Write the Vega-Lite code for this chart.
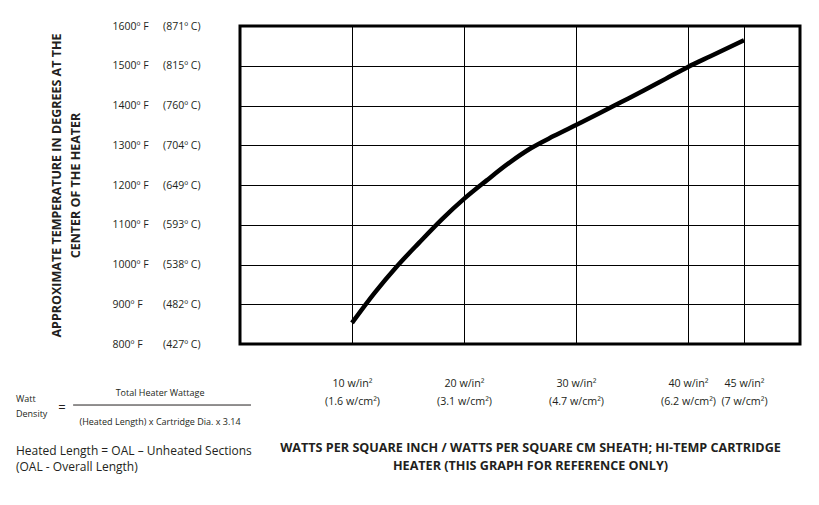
{
  "$schema": "https://vega.github.io/schema/vega-lite/v6.json",
  "width": 560,
  "height": 318,
  "autosize": {"type": "none"},
  "padding": {"left": 240, "top": 26, "right": 19, "bottom": 161},
  "background": "white",
  "config": {
    "view": {"stroke": "black", "strokeWidth": 3},
    "font": "Open Sans",
    "text": {"font": "Open Sans", "color": "#231f20"}
  },
  "resolve": {"axis": {"x": "independent", "y": "independent"}},
  "layer": [
    {
      "data": {
        "values": [
          {"wpsi": 10, "tempF": 853},
          {"wpsi": 12, "tempF": 928},
          {"wpsi": 14, "tempF": 995},
          {"wpsi": 16, "tempF": 1055},
          {"wpsi": 18, "tempF": 1113},
          {"wpsi": 20, "tempF": 1165},
          {"wpsi": 22, "tempF": 1211},
          {"wpsi": 24, "tempF": 1255},
          {"wpsi": 26, "tempF": 1293},
          {"wpsi": 28, "tempF": 1323},
          {"wpsi": 30, "tempF": 1351},
          {"wpsi": 32, "tempF": 1379},
          {"wpsi": 34, "tempF": 1408},
          {"wpsi": 36, "tempF": 1437},
          {"wpsi": 38, "tempF": 1467},
          {"wpsi": 40, "tempF": 1497},
          {"wpsi": 42, "tempF": 1524},
          {"wpsi": 45, "tempF": 1564}
        ]
      },
      "mark": {"type": "line", "color": "black", "strokeWidth": 4.5, "interpolate": "monotone"},
      "encoding": {
        "x": {
          "field": "wpsi",
          "type": "quantitative",
          "scale": {"domain": [0, 50], "nice": false, "zero": false},
          "axis": {
            "orient": "bottom",
            "values": [10, 20, 30, 40, 45],
            "grid": true,
            "gridColor": "black",
            "gridWidth": 1,
            "gridOpacity": 1,
            "domain": false,
            "ticks": false,
            "tickSize": 0,
            "labelPadding": 34,
            "labelBaseline": "top",
            "labelLineHeight": 18,
            "labelFontSize": 10.7,
            "labelFont": "Open Sans",
            "labelColor": "#231f20",
            "labelFlush": false,
            "labelOverlap": false,
            "labelExpr": "datum.value == 10 ? ['10 w/in²', '(1.6 w/cm²)'] : datum.value == 20 ? ['20 w/in²', '(3.1 w/cm²)'] : datum.value == 30 ? ['30 w/in²', '(4.7 w/cm²)'] : datum.value == 40 ? ['40 w/in²', '(6.2 w/cm²)'] : ['45 w/in²', '(7 w/cm²)']",
            "title": ["WATTS PER SQUARE INCH / WATTS PER SQUARE CM SHEATH; HI-TEMP CARTRIDGE", "HEATER (THIS GRAPH FOR REFERENCE ONLY)"],
            "titleFont": "Open Sans",
            "titleFontSize": 12.6,
            "titleFontWeight": "bold",
            "titleColor": "#231f20",
            "titleX": 290,
            "titleY": 103,
            "titleAlign": "center",
            "titleBaseline": "middle",
            "titleLineHeight": 18
          }
        },
        "y": {
          "field": "tempF",
          "type": "quantitative",
          "scale": {"domain": [800, 1600], "nice": false, "zero": false},
          "axis": {
            "orient": "left",
            "values": [800, 900, 1000, 1100, 1200, 1300, 1400, 1500, 1600],
            "grid": true,
            "gridColor": "black",
            "gridWidth": 1,
            "gridOpacity": 1,
            "domain": false,
            "ticks": false,
            "tickSize": 0,
            "labelAlign": "left",
            "labelBaseline": "middle",
            "labelPadding": 128,
            "labelFontSize": 10.5,
            "labelFont": "Open Sans",
            "labelColor": "#231f20",
            "labelFlush": false,
            "labelOverlap": false,
            "labelExpr": "datum.value + 'º F'",
            "title": ["APPROXIMATE TEMPERATURE IN DEGREES AT THE", "CENTER OF THE HEATER"],
            "titleFont": "Open Sans",
            "titleFontSize": 12.5,
            "titleFontWeight": "bold",
            "titleColor": "#231f20",
            "titleAngle": -90,
            "titleX": -183.5,
            "titleY": 159,
            "titleAlign": "center",
            "titleBaseline": "middle",
            "titleLineHeight": 19
          }
        }
      }
    },
    {
      "data": {"values": [{}]},
      "mark": {"type": "text", "align": "left", "baseline": "middle", "fontSize": 9, "text": "Watt"},
      "encoding": {
        "x": {"datum": -20, "type": "quantitative", "scale": {"domain": [0, 50], "nice": false, "zero": false}, "axis": null},
        "y": {
          "datum": 661.6,
          "type": "quantitative",
          "scale": {"domain": [800, 1600], "nice": false, "zero": false},
          "axis": {
            "orient": "left",
            "values": [800, 900, 1000, 1100, 1200, 1300, 1400, 1500, 1600],
            "grid": false,
            "domain": false,
            "ticks": false,
            "tickSize": 0,
            "labelAlign": "right",
            "labelBaseline": "middle",
            "labelPadding": 40,
            "labelFontSize": 10.5,
            "labelFont": "Open Sans",
            "labelColor": "#231f20",
            "labelFlush": false,
            "labelOverlap": false,
            "labelExpr": "'(' + (datum.value == 800 ? '427' : datum.value == 900 ? '482' : datum.value == 1000 ? '538' : datum.value == 1100 ? '593' : datum.value == 1200 ? '649' : datum.value == 1300 ? '704' : datum.value == 1400 ? '760' : datum.value == 1500 ? '815' : '871') + 'º C)'",
            "title": null
          }
        }
      }
    },
    {
      "data": {"values": [{}]},
      "mark": {"type": "text", "align": "left", "baseline": "middle", "fontSize": 9, "text": "Density"},
      "encoding": {
        "x": {"datum": -20, "type": "quantitative", "scale": {"domain": [0, 50], "nice": false, "zero": false}, "axis": null},
        "y": {"datum": 623.9, "type": "quantitative", "scale": {"domain": [800, 1600], "nice": false, "zero": false}, "axis": null}
      }
    },
    {
      "data": {"values": [{}]},
      "mark": {"type": "text", "align": "center", "baseline": "middle", "fontSize": 13, "text": "="},
      "encoding": {
        "x": {"datum": -15.9, "type": "quantitative", "scale": {"domain": [0, 50], "nice": false, "zero": false}, "axis": null},
        "y": {"datum": 639, "type": "quantitative", "scale": {"domain": [800, 1600], "nice": false, "zero": false}, "axis": null}
      }
    },
    {
      "data": {"values": [{}]},
      "mark": {"type": "text", "align": "center", "baseline": "middle", "fontSize": 9, "text": "Total Heater Wattage"},
      "encoding": {
        "x": {"datum": -7.14, "type": "quantitative", "scale": {"domain": [0, 50], "nice": false, "zero": false}, "axis": null},
        "y": {"datum": 676.7, "type": "quantitative", "scale": {"domain": [800, 1600], "nice": false, "zero": false}, "axis": null}
      }
    },
    {
      "data": {"values": [{}]},
      "mark": {"type": "rule", "color": "#231f20", "strokeWidth": 1},
      "encoding": {
        "x": {"datum": -14.9, "type": "quantitative", "scale": {"domain": [0, 50], "nice": false, "zero": false}, "axis": null},
        "x2": {"datum": 0.98},
        "y": {"datum": 646.5, "type": "quantitative", "scale": {"domain": [800, 1600], "nice": false, "zero": false}, "axis": null}
      }
    },
    {
      "data": {"values": [{}]},
      "mark": {"type": "text", "align": "center", "baseline": "middle", "fontSize": 9, "text": "(Heated Length) x Cartridge Dia. x 3.14"},
      "encoding": {
        "x": {"datum": -7.14, "type": "quantitative", "scale": {"domain": [0, 50], "nice": false, "zero": false}, "axis": null},
        "y": {"datum": 603.8, "type": "quantitative", "scale": {"domain": [800, 1600], "nice": false, "zero": false}, "axis": null}
      }
    },
    {
      "data": {"values": [{}]},
      "mark": {"type": "text", "align": "left", "baseline": "middle", "fontSize": 12, "text": "Heated Length = OAL – Unheated Sections"},
      "encoding": {
        "x": {"datum": -20, "type": "quantitative", "scale": {"domain": [0, 50], "nice": false, "zero": false}, "axis": null},
        "y": {"datum": 530.8, "type": "quantitative", "scale": {"domain": [800, 1600], "nice": false, "zero": false}, "axis": null}
      }
    },
    {
      "data": {"values": [{}]},
      "mark": {"type": "text", "align": "left", "baseline": "middle", "fontSize": 12, "text": "(OAL - Overall Length)"},
      "encoding": {
        "x": {"datum": -20, "type": "quantitative", "scale": {"domain": [0, 50], "nice": false, "zero": false}, "axis": null},
        "y": {"datum": 490.6, "type": "quantitative", "scale": {"domain": [800, 1600], "nice": false, "zero": false}, "axis": null}
      }
    }
  ]
}
